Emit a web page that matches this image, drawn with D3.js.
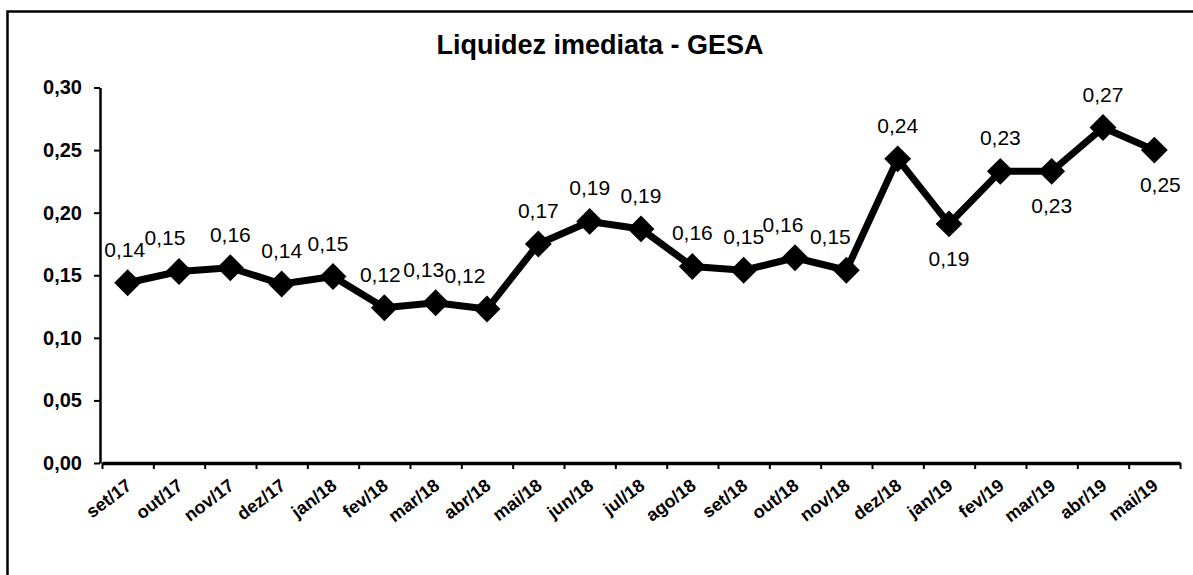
<!DOCTYPE html>
<html>
<head>
<meta charset="utf-8">
<script src="https://cdn.jsdelivr.net/npm/d3@7"></script>
<style>
  body { margin: 0; background: #fff; }
  svg { font-family: "Liberation Sans", Arial, sans-serif; }
</style>
</head>
<body>
<div id="chart"></div>
<script>
// chart values
var months = ["set/17","out/17","nov/17","dez/17","jan/18","fev/18","mar/18","abr/18","mai/18","jun/18","jul/18",
              "ago/18","set/18","out/18","nov/18","dez/18","jan/19","fev/19","mar/19","abr/19","mai/19"];
var liquidez = [0.144,0.153,0.156,0.143,0.149,0.124,0.128,0.123,0.175,0.193,0.187,
                0.157,0.154,0.164,0.154,0.243,0.191,0.233,0.233,0.268,0.250];
var yTicks = [0, 0.05, 0.10, 0.15, 0.20, 0.25, 0.30];
var title = "Liquidez imediata - GESA";

// labels drawn under the point instead of above
var labelsBelow = ["jan/19","mar/19","mai/19"];
// small horizontal nudges seen in the original
var labelNudge = {"set/17": -3, "out/17": -14, "jan/18": -5, "fev/18": -4, "mar/18": -12, "abr/18": -22, "out/18": -12, "nov/18": -16, "mai/19": 6};

var svgWidth = 1193, svgHeight = 575;
var margin = {top: 87.5, left: 102, right: 13, bottom: 112};
var width = svgWidth - margin.left - margin.right;
var height = svgHeight - margin.top - margin.bottom;

var svg = d3.select("#chart").append("svg").attr("width", svgWidth).attr("height", svgHeight);

// outer frame (left and top edges only visible)
svg.append("path").attr("d", "M7.5,575 V11.5 H1193").attr("fill", "none").attr("stroke", "#000").attr("stroke-width", 2.5);

svg.append("text").attr("x", 600).attr("y", 54).attr("text-anchor", "middle")
   .attr("font-size", "27px").attr("font-weight", "bold").text(title);

var g = svg.append("g").attr("transform", `translate(${margin.left},${margin.top})`);

var x = d3.scaleBand().domain(months).range([0, width]);
var xEdge = d3.scaleLinear().domain([0, months.length]).range([0, width]);
var y = d3.scaleLinear().domain([0, 0.30]).range([height, 0]);

var fmt = d => d.toFixed(2).replace(".", ",");

// y axis
var yAxis = g.append("g").attr("transform", "translate(-2,0)")
  .call(d3.axisLeft(y).tickValues(yTicks).tickFormat(fmt).tickSize(6).tickSizeOuter(0).tickPadding(12));
yAxis.select(".domain").attr("stroke-width", 2.5);
yAxis.selectAll(".tick line").attr("stroke-width", 2);
yAxis.selectAll("text").attr("font-size", "20px").attr("font-weight", "bold").attr("fill", "#000");

// x axis: ticks between categories
var xTicks = g.append("g").attr("transform", `translate(0,${height})`)
  .call(d3.axisBottom(xEdge).tickValues(d3.range(months.length + 1)).tickFormat("").tickSize(6).tickSizeOuter(0));
xTicks.select(".domain").attr("stroke-width", 3.5);
xTicks.selectAll(".tick line").attr("stroke-width", 2);

var xLabels = g.append("g").attr("transform", `translate(0,${height})`)
  .call(d3.axisBottom(x).tickSize(0).tickPadding(0));
xLabels.select(".domain").remove();
xLabels.selectAll("text")
  .attr("font-size", "18px").attr("font-weight", "bold").attr("fill", "#000")
  .attr("text-anchor", "end").attr("dy", null).attr("y", 0)
  .attr("transform", "translate(5,25) rotate(-37)");

// series line
var line = d3.line().x(d => x(d.m) + x.bandwidth() / 2).y(d => y(d.v));
var pts = months.map((m, i) => ({m: m, v: liquidez[i]}));

g.append("path").datum(pts).attr("d", line).attr("fill", "none")
  .attr("stroke", "#000").attr("stroke-width", 7).attr("stroke-linejoin", "round");

var diamond = d3.symbol().type(d3.symbolDiamond2).size(460);
g.selectAll("path.marker").data(pts).enter().append("path").attr("class", "marker")
  .attr("d", diamond)
  .attr("transform", d => `translate(${x(d.m) + x.bandwidth() / 2},${y(d.v)})`)
  .attr("fill", "#000");

g.selectAll("text.value").data(pts).enter().append("text").attr("class", "value")
  .attr("x", d => x(d.m) + x.bandwidth() / 2 + (labelNudge[d.m] || 0))
  .attr("y", d => y(d.v) + (labelsBelow.includes(d.m) ? 42 : -26))
  .attr("text-anchor", "middle").attr("font-size", "21px").attr("fill", "#000")
  .text(d => fmt(d.v));
</script>
</body>
</html>
